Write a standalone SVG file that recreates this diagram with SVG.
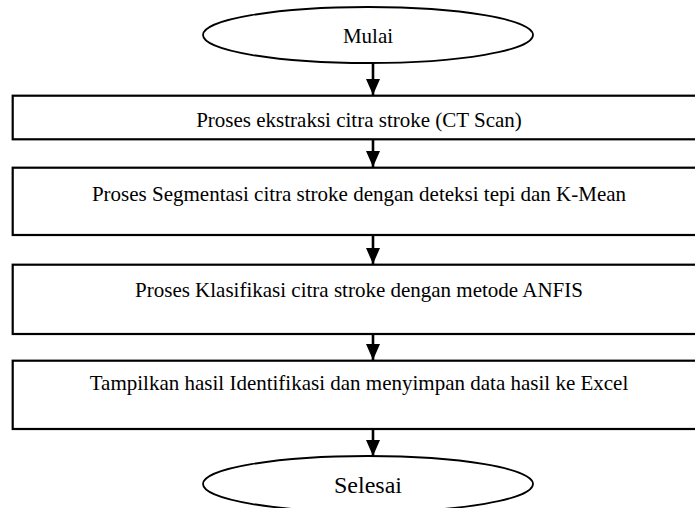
<svg xmlns="http://www.w3.org/2000/svg" width="695" height="508" viewBox="0 0 695 508">
<defs>
<marker id="ah" markerUnits="userSpaceOnUse" markerWidth="16" markerHeight="14" viewBox="0 0 16 14" refX="16" refY="7" orient="auto">
<path d="M0,0 L16,7 L0,14 Z" fill="#000"/>
</marker>
</defs>
<style>
.box{fill:#fff;stroke:#000;stroke-width:2.2}
.term{fill:#fff;stroke:#000;stroke-width:1.8}
.t{font-family:"Liberation Serif","Times New Roman",serif;font-size:21px;fill:#000;text-anchor:middle}
.c{stroke:#000;stroke-width:2.6;fill:none}
</style>
<rect width="695" height="508" fill="#fff"/>
<g id="mulai">
<ellipse class="term" cx="368" cy="35" rx="165" ry="28"/>
<text class="t" x="368" y="43">Mulai</text>
</g>
<g id="ekstraksi">
<rect class="box" x="12.7" y="95.7" width="692" height="43.6"/>
<text class="t" x="359" y="127">Proses ekstraksi citra stroke (CT Scan)</text>
</g>
<g id="segmentasi">
<rect class="box" x="12.7" y="167.7" width="692" height="67.3"/>
<text class="t" x="359" y="201">Proses Segmentasi citra stroke dengan deteksi tepi dan K-Mean</text>
</g>
<g id="klasifikasi">
<rect class="box" x="12.7" y="264.7" width="692" height="69.3"/>
<text class="t" x="359" y="297">Proses Klasifikasi citra stroke dengan metode ANFIS</text>
</g>
<g id="tampilkan">
<rect class="box" x="12.7" y="360.7" width="692" height="68.3"/>
<text class="t" x="359" y="390">Tampilkan hasil Identifikasi dan menyimpan data hasil ke Excel</text>
</g>
<g id="selesai">
<ellipse class="term" cx="368" cy="484" rx="165" ry="28"/>
<text class="t" x="368" y="493" style="font-size:24px">Selesai</text>
</g>
<g id="connectors">
<line class="c" x1="373" y1="63" x2="373" y2="95" marker-end="url(#ah)"/>
<line class="c" x1="373" y1="139.3" x2="373" y2="167" marker-end="url(#ah)"/>
<line class="c" x1="373" y1="235" x2="373" y2="264" marker-end="url(#ah)"/>
<line class="c" x1="373" y1="334" x2="373" y2="360" marker-end="url(#ah)"/>
<line class="c" x1="373" y1="429" x2="373" y2="456" marker-end="url(#ah)"/>
</g>
</svg>
